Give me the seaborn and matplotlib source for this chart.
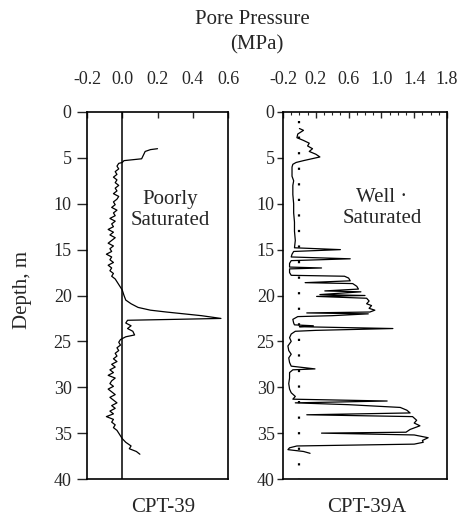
import numpy as np
import pandas as pd
import matplotlib
matplotlib.use("Agg")
import matplotlib.pyplot as plt
import seaborn as sns
from matplotlib.ticker import MultipleLocator

sns.set_style("ticks")
plt.rcParams['font.family'] = ['Liberation Serif', 'DejaVu Serif']

# ---------------- data ----------------
cpt39_pore = [0.20, 0.16, 0.13, 0.12, 0.11, 0.06, 0.01, 0.00,
              -0.02, -0.03, -0.02, -0.04, -0.03, -0.05, -0.03, -0.04, -0.02, -0.04,
              -0.03, -0.05, -0.02, -0.03, -0.05, -0.04, -0.06, -0.03, -0.05, -0.04,
              -0.07, -0.04, -0.06, -0.05, -0.08, -0.05, -0.07, -0.04, -0.06, -0.08,
              -0.05, -0.07, -0.06, -0.09, -0.06, -0.07, -0.05, -0.08, -0.06, -0.07,
              -0.05, -0.06, -0.04, -0.03, -0.02, -0.01, 0.00,
              0.01, 0.02, 0.05, 0.09, 0.16, 0.25, 0.35, 0.45, 0.56, 0.30, 0.03, 0.02,
              0.05, 0.03, 0.06, 0.07, 0.02,
              -0.01, -0.02, -0.01, -0.03, -0.02, -0.04, -0.03, -0.05, -0.03, -0.06,
              -0.04, -0.07, -0.05, -0.08, -0.04, -0.06, -0.07, -0.05, -0.08, -0.06,
              -0.04, -0.07, -0.05, -0.03, -0.06, -0.04, -0.07, -0.05, -0.09, -0.05,
              -0.06, -0.04, -0.05, -0.03, -0.02, -0.01, 0.00,
              0.02, 0.05, 0.04, 0.08, 0.10]
cpt39_depth = [4.0, 4.1, 4.3, 4.7, 5.1, 5.2, 5.3, 5.5,
               5.6, 5.9, 6.2, 6.5, 6.8, 7.1, 7.4, 7.7, 8.0, 8.3,
               8.6, 8.9, 9.2, 9.5, 9.8, 10.1, 10.4, 10.7, 11.0, 11.3,
               11.6, 11.9, 12.2, 12.5, 12.8, 13.1, 13.4, 13.7, 14.0, 14.3,
               14.6, 14.9, 15.2, 15.5, 15.8, 16.1, 16.4, 16.7, 17.0, 17.3,
               17.6, 17.9, 18.2, 18.5, 18.8, 19.1, 19.4,
               20.0, 20.5, 20.9, 21.3, 21.6, 21.8, 22.0, 22.2, 22.5, 22.6, 22.7, 23.0,
               23.3, 23.6, 23.9, 24.3, 24.5,
               24.8, 25.1, 25.4, 25.7, 26.0, 26.3, 26.6, 26.9, 27.2, 27.5,
               27.8, 28.1, 28.4, 28.7, 29.0, 29.3, 29.6, 29.9, 30.2, 30.5,
               30.8, 31.1, 31.4, 31.7, 32.0, 32.3, 32.6, 32.9, 33.2, 33.5,
               33.8, 34.1, 34.4, 34.7, 35.0, 35.3, 35.6,
               36.0, 36.4, 36.7, 37.0, 37.3]

cpt39a_pore = [0.00, 0.05, -0.02, -0.03, 0.05, 0.12, 0.10, 0.16, 0.12, 0.20, 0.25, 0.05,
               -0.04, -0.08, -0.09, -0.09, -0.07, -0.08, -0.08, -0.07, -0.07, -0.06, -0.06,
               -0.05, -0.06, 0.50, -0.07, -0.09, -0.10, 0.62, -0.10, -0.12, -0.12, 0.27,
               -0.12, -0.12, -0.10, 0.55, 0.60, 0.62, 0.07, 0.65, 0.70, 0.72, 0.31, 0.75,
               0.25, 0.80, 0.21, 0.82, 0.85, 0.82, 0.88, 0.85, 0.92, 0.86, 0.09, 0.84, 0.40,
               -0.02, -0.08, -0.07, -0.06, 0.17, 0.00, 1.14, 0.20, -0.05, -0.10, -0.12, -0.10,
               -0.14, -0.13, -0.10, -0.13, -0.12, -0.10, 0.19, -0.08, -0.12, -0.12, -0.13,
               -0.12, -0.10, -0.05, -0.08, 1.07, -0.05, 0.60, 1.23, 1.31, 1.35, 0.09, 1.38,
               1.43, 1.40, 1.47, 1.35, 1.30, 0.27, 1.40, 1.57, 1.50, 1.51, 1.40, -0.03,
               -0.12, -0.14, 0.05, 0.13]
cpt39a_depth = [1.8, 2.0, 2.4, 2.8, 3.1, 3.4, 3.7, 4.0, 4.3, 4.6, 4.9, 5.3,
                5.5, 5.7, 6.0, 7.0, 7.5, 8.0, 9.0, 10.0, 11.0, 12.0, 13.0,
                14.0, 14.8, 15.0, 15.2, 15.5, 15.8, 16.0, 16.2, 16.5, 16.9, 17.0,
                17.1, 17.5, 17.8, 17.9, 18.1, 18.4, 18.6, 18.7, 19.0, 19.3, 19.5, 19.6,
                19.9, 20.0, 20.1, 20.3, 20.6, 20.9, 21.1, 21.4, 21.6, 21.8, 21.9, 22.0, 22.2,
                22.3, 22.6, 23.0, 23.2, 23.3, 23.4, 23.6, 23.8, 23.9, 24.2, 24.6, 25.0,
                25.5, 26.0, 26.4, 26.8, 27.3, 27.7, 28.0, 28.1, 28.4, 29.0, 29.6,
                30.2, 30.6, 31.0, 31.3, 31.5, 31.7, 31.9, 32.2, 32.5, 32.8, 33.0, 33.2,
                33.6, 33.9, 34.2, 34.6, 34.9, 35.0, 35.2, 35.5, 35.8, 36.0, 36.2, 36.4,
                36.6, 36.8, 37.0, 37.2]

left_xticks = [-0.2, 0.0, 0.2, 0.4, 0.6]
left_xticklabels = ["-0.2", "0.0", "0.2", "0.4", "0.6"]
right_xticks = [-0.2, 0.2, 0.6, 1.0, 1.4, 1.8]
right_xticklabels = ["-0.2", "0.2", "0.6", "1.0", "1.4", "1.8"]
depth_ticks = [0, 5, 10, 15, 20, 25, 30, 35, 40]
ref_line_left = 0.0
ref_line_right = 0.0
ref_right_top = 1.0

df39 = pd.DataFrame({"pore": cpt39_pore, "depth": cpt39_depth})
df39a = pd.DataFrame({"pore": cpt39a_pore, "depth": cpt39a_depth})

W, H = 461, 519
fig = plt.figure(figsize=(W / 100, H / 100), dpi=100)

def rect(x0, y0, x1, y1):
    return [x0 / W, 1 - y1 / H, (x1 - x0) / W, (y1 - y0) / H]

ax1 = fig.add_axes(rect(87, 112, 228, 479))
ax2 = fig.add_axes(rect(283, 112, 447, 479))

sns.lineplot(data=df39, x="pore", y="depth", sort=False, estimator=None,
             ax=ax1, color="black", lw=0.9)
ax1.axvline(ref_line_left, color="black", lw=1.1)
sns.lineplot(data=df39a, x="pore", y="depth", sort=False, estimator=None,
             ax=ax2, color="black", lw=0.9)
ax2.plot([ref_line_right, ref_line_right], [ref_right_top, 40], color="black",
         lw=1.6, ls=(0, (1, 6)))

for ax in (ax1, ax2):
    ax.set_ylim(40, 0)
    ax.set_xlabel("")
    ax.set_ylabel("")
    for s in ax.spines.values():
        s.set_linewidth(1.2)
        s.set_color("black")
    ax.xaxis.set_ticks_position("top")
    ax.xaxis.set_label_position("top")
    ax.set_yticks(depth_ticks)
    ax.set_yticklabels([str(t) for t in depth_ticks])

ax1.set_xlim(-0.2, 0.6)
ax1.set_xticks(left_xticks)
ax1.set_xticklabels(left_xticklabels)
ax1.tick_params(axis="x", direction="in", length=4, width=1, pad=17, labelsize=13)
ax1.tick_params(axis="y", direction="out", length=7, width=1, pad=4, labelsize=13)

ax2.set_xlim(-0.2, 1.8)
ax2.set_xticks(right_xticks)
ax2.set_xticklabels(right_xticklabels)
ax2.xaxis.set_minor_locator(MultipleLocator(0.1))
ax2.tick_params(axis="x", which="major", direction="in", length=4, width=1, pad=17, labelsize=13)
ax2.tick_params(axis="x", which="minor", direction="in", length=2.5, width=0.8, top=True, bottom=False)
ax2.tick_params(axis="y", direction="out", length=4, width=1, pad=2, labelsize=13)

fig.text(252 / W, 1 - 20 / H, "Pore Pressure", ha="center", va="center", fontsize=15)
fig.text(257 / W, 1 - 45 / H, "(MPa)", ha="center", va="center", fontsize=15)
fig.text(23 / W, 1 - 290 / H, "Depth, m", ha="center", va="center", rotation=90, fontsize=15)
fig.text(163 / W, 1 - 508 / H, "CPT-39", ha="center", va="center", fontsize=15)
fig.text(367 / W, 1 - 508 / H, "CPT-39A", ha="center", va="center", fontsize=15)
fig.text(170 / W, 1 - 210 / H, "Poorly\nSaturated", ha="center", va="center",
         fontsize=15, linespacing=1.2)
fig.text(382 / W, 1 - 208 / H, "Well \u00b7\nSaturated", ha="center", va="center",
         fontsize=15, linespacing=1.2)

fig.savefig("out.png", dpi=100)
